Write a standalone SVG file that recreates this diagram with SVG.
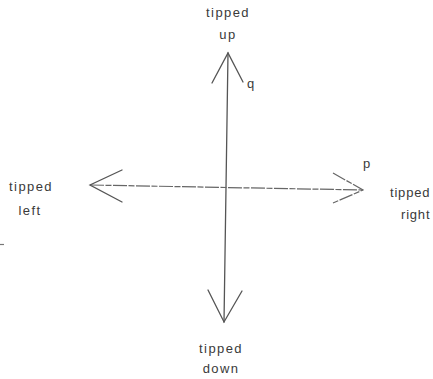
<svg xmlns="http://www.w3.org/2000/svg" width="433" height="379" viewBox="0 0 433 379">
<style>
.t{font-family:"Liberation Sans",Arial,sans-serif;font-size:13px;fill:#3a3a3a;letter-spacing:1.4px}
.ln{stroke:#555;stroke-width:1.3;fill:none;stroke-linecap:round}
.dl{stroke:#666;stroke-width:1.2;fill:none;stroke-dasharray:14 1.5 6 1.5}
</style>
<rect width="433" height="379" fill="#fff"/>
<g id="connectors">
<line class="ln" x1="228" y1="53" x2="224" y2="322"/>
<line class="dl" x1="90" y1="185" x2="363" y2="190"/>
</g>
<g id="up">
<polyline class="ln" points="212,83 228,53 243,82"/>
<text class="t" x="228" y="17" text-anchor="middle">tipped</text>
<text class="t" x="228" y="39" text-anchor="middle">up</text>
<text class="t" x="247" y="88">q</text>
</g>
<g id="down">
<polyline class="ln" points="208,290 224,322 242,291"/>
<text class="t" x="221" y="353" text-anchor="middle">tipped</text>
<text class="t" x="221" y="373" text-anchor="middle">down</text>
</g>
<g id="left">
<polyline class="ln" points="122,170 90,185 122,202"/>
<text class="t" x="31" y="191" text-anchor="middle">tipped</text>
<text class="t" x="30" y="215" text-anchor="middle">left</text>
</g>
<g id="right">
<polyline class="dl" points="333,173 363,190 333,203"/>
<text class="t" x="390" y="197" style="letter-spacing:0.8px">tipped</text>
<text class="t" x="401" y="219" style="letter-spacing:0.8px">right</text>
<text class="t" x="363" y="168">p</text>
</g>
<line x1="0" y1="244.5" x2="4" y2="244.5" stroke="#777" stroke-width="1.2"/>
</svg>
